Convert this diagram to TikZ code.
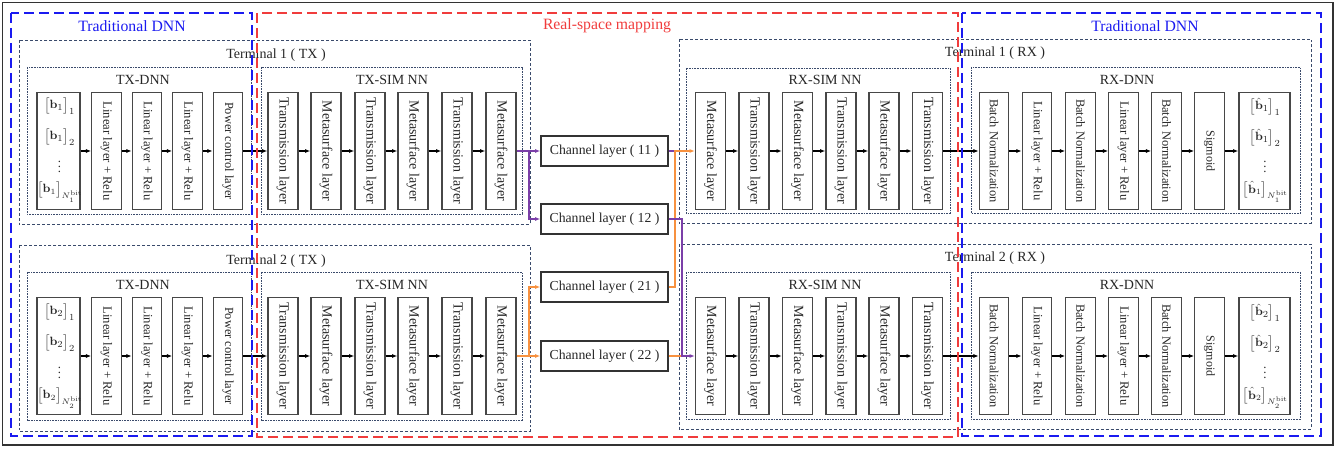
\documentclass[tikz,border=0pt]{standalone}
\usepackage[no-math]{fontspec}
\setmainfont{Liberation Serif}
\usepackage{graphicx}
\usetikzlibrary{arrows.meta}
\definecolor{navyd}{HTML}{3A4A6B}
\definecolor{bluedash}{HTML}{1A1AF0}
\definecolor{reddash}{HTML}{F03C3C}
\definecolor{purp}{HTML}{7B3FA8}
\definecolor{orng}{HTML}{F7913F}
\newcommand{\vtxt}[2]{\rotatebox{-90}{\fontsize{#1}{#1}\selectfont #2}}
\tikzset{
  blk/.style={draw=black!72, line width=0.85pt, minimum width=22pt, minimum height=87.75pt, inner sep=0pt, text=black!85},
  chn/.style={draw=black!80, line width=0.85pt, minimum width=95.25pt, minimum height=22.5pt, inner sep=0pt, text=black!85, font=\fontsize{10.3}{12}\selectfont},
  termbox/.style={draw=navyd, line width=0.6pt, dash pattern=on 2.2pt off 1.5pt},
  subbox/.style={draw=navyd, line width=0.6pt, dash pattern=on 1.2pt off 0.8pt},
  bigblue/.style={draw=bluedash, line width=1.1pt, dash pattern=on 7.5pt off 3.75pt},
  bigred/.style={draw=reddash, line width=1.1pt, dash pattern=on 7.5pt off 3.75pt},
  arr/.style={-{Latex[length=4pt,width=3pt]}, line width=0.8pt, black},
  parr/.style={-{Latex[length=4pt,width=3pt]}, line width=0.9pt, purp},
  oarr/.style={-{Latex[length=4pt,width=3pt]}, line width=0.9pt, orng},
  pline/.style={line width=0.9pt, purp},
  oline/.style={line width=0.9pt, orng},
  ttl/.style={font=\fontsize{10.5}{12}\selectfont, text=black!85, inner sep=0pt},
  bigttl/.style={font=\fontsize{11.8}{13}\selectfont, inner sep=0pt},
  mth/.style={font=\fontsize{9.5}{11}\selectfont, inner sep=0pt, text=black!85},
  mthn/.style={font=\fontsize{8.8}{10}\selectfont, inner sep=0pt, text=black!85},
}
\begin{document}
\begin{tikzpicture}[x=0.75pt,y=-0.75pt]
\useasboundingbox (0,0) rectangle (1340,452);
\draw[line width=1.1pt, black!80] (2.5,2.5) rectangle (1333,445);

% terminal containers
\draw[termbox] (19,40) rectangle (530,224);
\draw[termbox] (19,245) rectangle (530,431);
\draw[termbox] (679,39) rectangle (1311,223);
\draw[termbox] (679,244) rectangle (1311,429);
% sub containers
\draw[subbox] (27,67) rectangle (251,214);
\draw[subbox] (261,67) rectangle (522,214);
\draw[subbox] (27,272) rectangle (251,420);
\draw[subbox] (261,272) rectangle (522,420);
\draw[subbox] (686,68) rectangle (950,213);
\draw[subbox] (971,67) rectangle (1300,213);
\draw[subbox] (686,272) rectangle (950,419);
\draw[subbox] (971,272) rectangle (1300,419);

% titles
\node[bigttl, text=bluedash] (lt1) at (132,26) {Traditional DNN};
\node[bigttl, text=reddash] (lt2) at (607,26) {Real-space mapping};
\node[bigttl, text=bluedash] (lt3) at (1145,26) {Traditional DNN};
\node[ttl] (tt1) at (276,55) {Terminal 1 ( TX )};
\node[ttl] (tt2) at (276,261) {Terminal 2 ( TX )};
\node[ttl] (tr1) at (995,53) {Terminal 1 ( RX )};
\node[ttl] (tr2) at (995,258) {Terminal 2 ( RX )};
\foreach \r/\yt in {1/80, 2/285} {
  \node[ttl] (txd\r) at (143,\yt) {TX-DNN};
  \node[ttl] (txs\r) at (392,\yt) {TX-SIM NN};
  \node[ttl] (rxs\r) at (825,\yt) {RX-SIM NN};
  \node[ttl] (rxd\r) at (1127,\yt) {RX-DNN};
}

% blocks
\foreach \r/\yc in {1/151, 2/356} {
  \node[blk, minimum width=32.25pt] (in\r) at (58.5,\yc) {};
  \foreach \i/\xc/\fs/\txt in {1/106.5/9.5/Linear layer + Relu, 2/147/9.5/Linear layer + Relu, 3/187.5/9.5/Linear layer + Relu, 4/228/9.3/Power control layer}
    {\node[blk] (d\r\i) at (\xc,\yc) {\vtxt{\fs}{\txt}};}
  \foreach \i/\xc/\txt in {1/283/Transmission layer, 2/326/Metasurface layer, 3/370/Transmission layer, 4/413/Metasurface layer, 5/457/Transmission layer, 6/501/Metasurface layer}
    {\node[blk, minimum width=22.5pt] (s\r\i) at (\xc,\yc) {\vtxt{10.5}{\txt}};}
  \foreach \i/\xc/\txt in {1/710.5/Metasurface layer, 2/754/Transmission layer, 3/797.5/Metasurface layer, 4/841/Transmission layer, 5/884/Metasurface layer, 6/927.5/Transmission layer}
    {\node[blk, minimum width=22.5pt] (q\r\i) at (\xc,\yc) {\vtxt{10.5}{\txt}};}
  \foreach \i/\xc/\fs/\txt in {1/994/9.3/Batch Normalization, 2/1037/9.5/Linear layer + Relu, 3/1080.5/9.3/Batch Normalization, 4/1123.5/9.5/Linear layer + Relu, 5/1166.5/9.3/Batch Normalization, 6/1209.5/9/Sigmoid}
    {\node[blk] (e\r\i) at (\xc,\yc) {\vtxt{\fs}{\txt}};}
  \node[blk, minimum width=38.25pt] (out\r) at (1264.5,\yc) {};
  % arrows
  \draw[arr] (in\r.east) -- (d\r1.west);
  \draw[arr] (d\r1.east) -- (d\r2.west);
  \draw[arr] (d\r2.east) -- (d\r3.west);
  \draw[arr] (d\r3.east) -- (d\r4.west);
  \draw[arr] (d\r4.east) -- (s\r1.west);
  \draw[arr] (s\r1.east) -- (s\r2.west);
  \draw[arr] (s\r2.east) -- (s\r3.west);
  \draw[arr] (s\r3.east) -- (s\r4.west);
  \draw[arr] (s\r4.east) -- (s\r5.west);
  \draw[arr] (s\r5.east) -- (s\r6.west);
  \draw[arr] (q\r1.east) -- (q\r2.west);
  \draw[arr] (q\r2.east) -- (q\r3.west);
  \draw[arr] (q\r3.east) -- (q\r4.west);
  \draw[arr] (q\r4.east) -- (q\r5.west);
  \draw[arr] (q\r5.east) -- (q\r6.west);
  \draw[arr] (q\r6.east) -- (e\r1.west);
  \draw[arr] (e\r1.east) -- (e\r2.west);
  \draw[arr] (e\r2.east) -- (e\r3.west);
  \draw[arr] (e\r3.east) -- (e\r4.west);
  \draw[arr] (e\r4.east) -- (e\r5.west);
  \draw[arr] (e\r5.east) -- (e\r6.west);
  \draw[arr] (e\r6.east) -- (out\r.west);
}

% input / output symbols
\node[mth] (i1a) at (59.5,106) {$\big[\mathbf{b}_1\big]_1$};
\node[mth] (i1b) at (59.5,137) {$\big[\mathbf{b}_1\big]_2$};
\node[mth] (i1c) at (59.5,163) {$\vdots$};
\node[mthn] (i1d) at (60,192) {$\big[\mathbf{b}_1\big]_{N_1^{\mathrm{bit}}}$};
\node[mth] (i2a) at (59.5,312) {$\big[\mathbf{b}_2\big]_1$};
\node[mth] (i2b) at (59.5,343) {$\big[\mathbf{b}_2\big]_2$};
\node[mth] (i2c) at (59.5,369) {$\vdots$};
\node[mthn] (i2d) at (60,398) {$\big[\mathbf{b}_2\big]_{N_2^{\mathrm{bit}}}$};
\node[mth] (o1a) at (1265,107) {$\big[\hat{\mathbf{b}}_1\big]_1$};
\node[mth] (o1b) at (1265,138) {$\big[\hat{\mathbf{b}}_1\big]_2$};
\node[mth] (o1c) at (1265,163) {$\vdots$};
\node[mthn] (o1d) at (1265.5,192) {$\big[\hat{\mathbf{b}}_1\big]_{N_1^{\mathrm{bit}}}$};
\node[mth] (o2a) at (1265,313) {$\big[\hat{\mathbf{b}}_2\big]_1$};
\node[mth] (o2b) at (1265,344) {$\big[\hat{\mathbf{b}}_2\big]_2$};
\node[mth] (o2c) at (1265,369) {$\vdots$};
\node[mthn] (o2d) at (1265.5,398) {$\big[\hat{\mathbf{b}}_2\big]_{N_2^{\mathrm{bit}}}$};

% channel layers
\node[chn] (c11) at (604.5,151) {Channel layer ( 11 )};
\node[chn] (c12) at (604.5,219) {Channel layer ( 12 )};
\node[chn] (c21) at (604.5,287) {Channel layer ( 21 )};
\node[chn] (c22) at (604.5,356) {Channel layer ( 22 )};

\coordinate (ja) at (529,151);
\coordinate (jb) at (529,356);
\coordinate (jc) at (675,151);
\coordinate (jd) at (682,356);

\draw[parr] (s16.east) -- (c11.west);
\draw[parr] (ja) |- (c12.west);
\draw[oarr] (s26.east) -- (c22.west);
\draw[oarr] (jb) |- (c21.west);
\draw[pline] (c11.east) -- (jc);
\draw[oarr] (c21.east) -| (jc) -- (q11.west);
\draw[oline] (c22.east) -- (jd);
\draw[parr] (c12.east) -| (jd) -- (q21.west);

% big dashed regions
\draw[bigblue] (11,13) rectangle (252,436);
\draw[bigred] (257,13) rectangle (958,437);
\draw[bigblue] (962,13) rectangle (1321,436);
\end{tikzpicture}
\end{document}
